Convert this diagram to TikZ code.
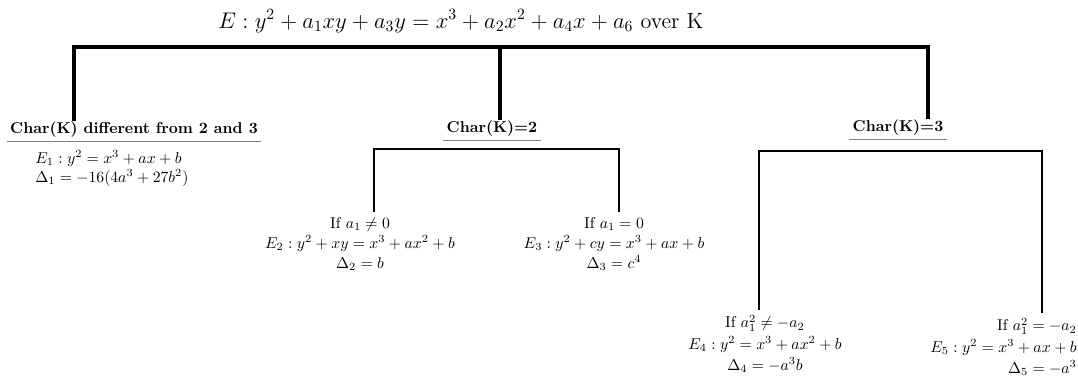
\documentclass[tikz,border=0pt]{standalone}
\usepackage{amsmath}
\begin{document}
\begin{tikzpicture}[x=0.6369pt,y=-0.6369pt,
  trunk/.style={line width=2.5pt},
  branch/.style={line width=1.7pt},
  uline/.style={draw=gray,line width=0.8pt},
  charlbl/.style={inner xsep=2pt,inner ysep=0pt,font=\bfseries},
  leaf/.style={inner xsep=0pt,inner ysep=3pt,align=center}]
\useasboundingbox (0,0) rectangle (1078,376);
% title
\node[font=\fontsize{14.05pt}{17pt}\selectfont,anchor=base,inner sep=0pt] (root) at (461,28)
  {$E: y^2+a_1xy+a_3y=x^3+a_2x^2+a_4x+a_6$ over K};
% characteristic labels
\node[charlbl,anchor=base] (ch1) at (134,133) {Char(K) different from 2 and 3};
\node[charlbl,anchor=base] (ch2) at (492,132) {Char(K)=2};
\node[charlbl,anchor=base] (ch3) at (898,131) {Char(K)=3};
\foreach \n in {ch1,ch2,ch3}
  \draw[uline] ([yshift=-2.6pt]\n.south west) -- ([yshift=-2.6pt]\n.south east);
% trunk
\coordinate (t1) at (74,47);
\coordinate (t2) at (500,47);
\coordinate (t3) at (928,47);
\draw[trunk] (ch1.north -| t1) -- (t1) -- (t3) -- (ch3.north -| t3);
\draw[trunk] (t2) -- (ch2.north -| t2);
% leaves
\node[leaf,anchor=north west,align=left,inner ysep=2pt] (l1) at (35,147)
  {$E_1: y^2=x^3+ax+b$\\ $\Delta_1=-16(4a^3+27b^2)$};
\node[leaf,anchor=north] (l2a) at (360,212)
  {If $a_1\neq 0$\\[0.8pt] $E_2: y^2+xy=x^3+ax^2+b$\\[0.8pt] $\Delta_2=b$};
\node[leaf,anchor=north] (l2b) at (614,212)
  {If $a_1=0$\\[0.8pt] $E_3: y^2+cy=x^3+ax+b$\\[0.8pt] $\Delta_3=c^4$};
\node[leaf,anchor=north] (l3a) at (765,310)
  {If $a_1^2\neq -a_2$\\[1.6pt] $E_4: y^2=x^3+ax^2+b$\\[1.6pt] $\Delta_4=-a^3b$};
\node[leaf,anchor=north east,align=right] (l3b) at (1077,313)
  {If $a_1^2=-a_2$\\[1.6pt] $E_5: y^2=x^3+ax+b$\\[1.6pt] $\Delta_5=-a^3$};
% branches
\coordinate (b2l) at (374,149);
\coordinate (b2r) at (619,149);
\coordinate (b3l) at (759,151);
\coordinate (b3r) at (1042,151);
\draw[branch] (l2a.north -| b2l) -- (b2l) -- (b2r) -- (l2b.north -| b2r);
\draw[branch] (l3a.north -| b3l) -- (b3l) -- (b3r) -- (l3b.north -| b3r);
\end{tikzpicture}
\end{document}
